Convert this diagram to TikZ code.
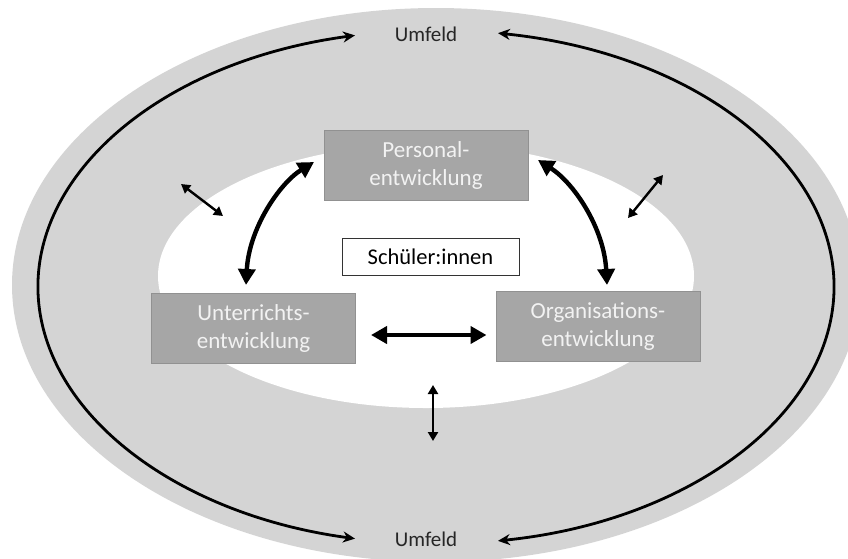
\documentclass[tikz,border=0pt]{standalone}
\usepackage{fontspec}
\setmainfont{Carlito}
\usetikzlibrary{arrows.meta,calc}
\definecolor{ringgray}{RGB}{212,212,212}
\definecolor{boxgray}{RGB}{166,166,166}
\definecolor{boxedge}{RGB}{145,145,145}
\definecolor{boxtext}{RGB}{242,242,242}
\begin{document}
\begin{tikzpicture}[x=1pt,y=-1pt,
  devbox/.style={draw=boxedge, line width=1pt, fill=boxgray, text=boxtext,
    minimum width=204pt, minimum height=70pt, inner sep=0pt, align=center,
    font=\fontsize{23}{28}\selectfont},
  pupilbox/.style={draw=black!80, line width=0.9pt, fill=white, text=black,
    minimum width=177pt, minimum height=37pt, inner sep=0pt,
    font=\fontsize{22.5}{26}\selectfont},
  envlabel/.style={anchor=base, text=black!85, font=\fontsize{21}{25}\selectfont},
  ringline/.style={line width=2.8pt, {Stealth[length=12pt,width=11pt]}-{Stealth[length=12pt,width=11pt]}},
  thickarrow/.style={line width=4.4pt, {Triangle[length=16pt,width=17pt]}-{Triangle[length=16pt,width=17pt]}},
  thinarrow/.style={line width=2.4pt, {Triangle[length=9pt,width=10pt]}-{Triangle[length=9pt,width=10pt]}}
]
\useasboundingbox (0,0) rectangle (848,558);
\begin{scope}
\clip (0,0) rectangle (848,558);
\fill[ringgray] (436,285) ellipse [x radius=424pt, y radius=277pt];
\fill[white] (426,276) ellipse [x radius=268pt, y radius=132pt];
\end{scope}

% ring line with arrows
\coordinate (BC) at (436,287);
\draw[ringline] ($(BC)+(101.74:398pt and 257pt)$) arc[start angle=101.74, end angle=258.26, x radius=398pt, y radius=257pt];
\draw[ringline] ($(BC)+(81.04:398pt and 257pt)$) arc[start angle=81.04, end angle=-81.04, x radius=398pt, y radius=257pt];

\node[envlabel] (top) at (426,41.5) {Umfeld};
\node[envlabel] (bottom) at (426,546) {Umfeld};

% boxes
\node[devbox] (P) at (426,165.5) {Personal-\\entwicklung};
\node[devbox] (U) at (253.5,328) {Unterrichts-\\entwicklung};
\node[devbox] (O) at (598,326.5) {Organisations-\\entwicklung};
\node[pupilbox] (S) at (430.5,256.5) {Schüler:innen};

% thick arrows between boxes
\coordinate (pu1) at (314,162);
\coordinate (pu2) at (246,285);
\coordinate (po1) at (538,160);
\coordinate (po2) at (607,285);
\draw[thickarrow] (pu1) .. controls (280,183) and (249,228) .. (pu2);
\draw[thickarrow] (po1) .. controls (574,183) and (604,228) .. (po2);
\draw[thickarrow, shorten <=15pt, shorten >=9pt] (U.east |- 0,335) -- (O.west |- 0,335);

% thin arrows to the environment
\coordinate (tl1) at (181,184);
\coordinate (tl2) at (223,216);
\coordinate (tr1) at (663,175);
\coordinate (tr2) at (628,218);
\coordinate (bm1) at (433,385);
\coordinate (bm2) at (433,441);
\draw[thinarrow] (tl1) -- (tl2);
\draw[thinarrow] (tr1) -- (tr2);
\draw[thinarrow] (bm1) -- (bm2);
\end{tikzpicture}
\end{document}
